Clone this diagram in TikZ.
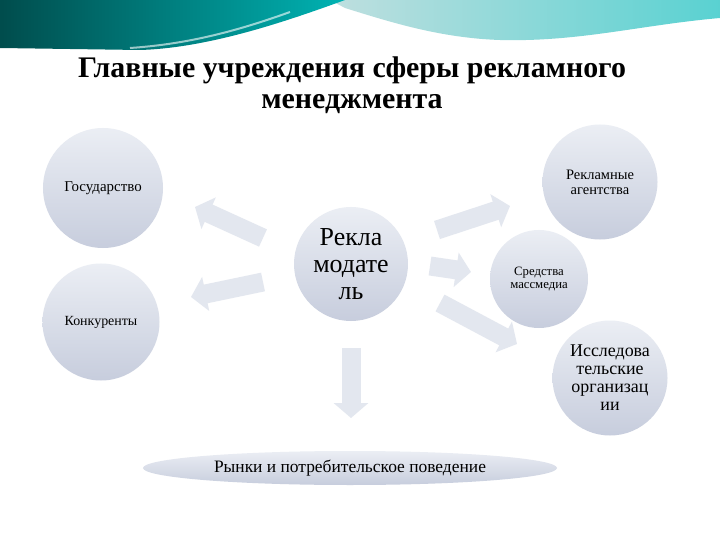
\documentclass[tikz,border=0pt]{standalone}
\usepackage{fontspec}
\setmainfont{Liberation Serif}
\usetikzlibrary{arrows.meta, shapes.geometric}
\definecolor{ballTop}{HTML}{EBEEF4}
\definecolor{ballBot}{HTML}{C7CDDD}
\definecolor{arrowFill}{HTML}{E3E7EF}

\begin{document}
\begin{tikzpicture}[x=1bp, y=-1bp,
  ball/.style={circle, minimum size=#1, inner sep=1pt, align=center, top color=ballTop, bottom color=ballBot, draw=none},
  blockarrow/.style={line width=19bp, draw=arrowFill, -{Triangle[width=34bp, length=15bp, fill=arrowFill]}, line cap=butt}]
\useasboundingbox (0,0) rectangle (720,540);
\fill[white] (0,0) rectangle (720,540);
\shade[left color=teal!25!white, right color=teal!55!cyan!65!white] (330,0) -- (720,0) -- (720,18) .. controls (640,25) and (580,42) .. (500,40) .. controls (440,38) and (390,22) .. (345,8) -- cycle;
\shade[left color=teal!60!black, right color=teal!60!cyan] (0,0) -- (345,0) .. controls (290,20) and (210,48) .. (140,50) -- (0,48) -- cycle;
\draw[white, line width=2bp, opacity=0.6] (130,48) .. controls (190,44) and (240,30) .. (290,12);
\node[font=\bfseries\fontsize{30}{31}\selectfont, align=center] (title) at (352,85) {Главные учреждения сферы рекламного\\менеджмента};
\node[ball=120bp, font=\fontsize{15}{17}\selectfont] (gov) at (103,188) {Государство};
\node[ball=117bp, font=\fontsize{14}{16}\selectfont] (comp) at (101,322) {Конкуренты};
\node[ball=114bp, font=\fontsize{26}{27}\selectfont] (adv) at (351,264) {Рекла\\модате\\ль};
\node[ball=115bp, font=\fontsize{14.5}{15}\selectfont] (agency) at (600,182) {Рекламные\\агентства};
\node[ball=98bp, font=\fontsize{12.8}{14}\selectfont] (media) at (539,279) {Средства\\массмедиа};
\node[ball=115bp, font=\fontsize{18}{18}\selectfont] (research) at (610,378) {Исследова\\тельские\\организац\\ии};
\node[ellipse, minimum width=414bp, minimum height=34bp, top color=ballTop, bottom color=ballBot, font=\fontsize{17.5}{20}\selectfont] (market) at (350,468) {Рынки и потребительское поведение};
\coordinate (t1) at (263,238); \coordinate (h1) at (195,207);
\coordinate (t2) at (263,282); \coordinate (h2) at (191,297);
\coordinate (t3) at (437,230); \coordinate (h3) at (510,206);
\coordinate (t4) at (430,266); \coordinate (h4) at (471,272);
\coordinate (t5) at (440,303); \coordinate (h5) at (517,344);
\coordinate (t6) at (351,348); \coordinate (h6) at (351,418);
\foreach \t/\h in {t1/h1, t2/h2, t3/h3, t4/h4, t5/h5, t6/h6}
  \draw[blockarrow] (\t) -- (\h);
\end{tikzpicture}
\end{document}
